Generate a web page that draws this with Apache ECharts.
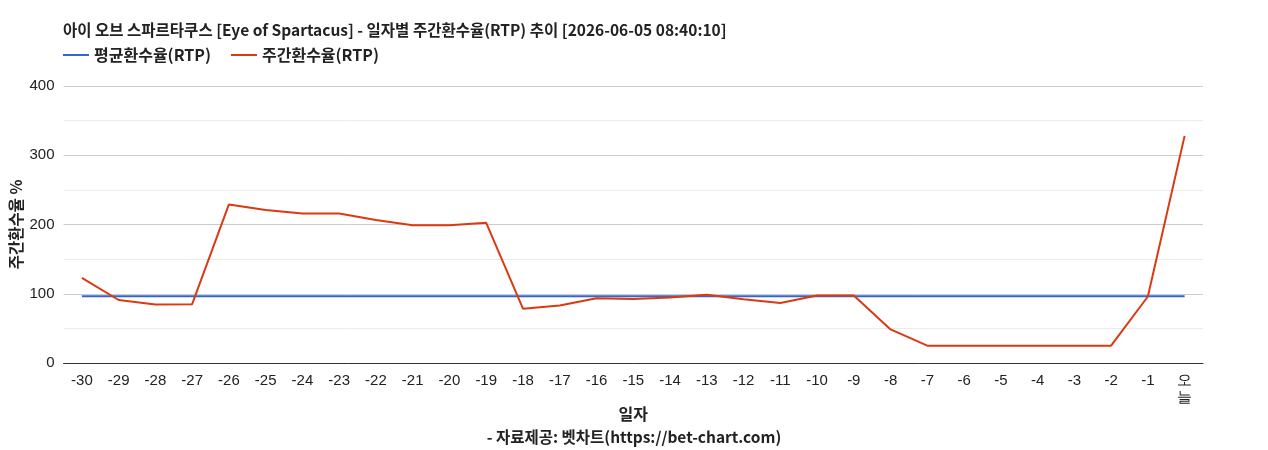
<!DOCTYPE html>
<html>
<head>
    <meta charset="utf-8">
    <title>일자별 주간환수율</title>
    <script src="https://cdn.jsdelivr.net/npm/echarts@6/dist/echarts.min.js"></script>
    <style>
        html, body { margin: 0; padding: 0; background: #fff; }
        #chart { width: 1268px; height: 450px; }
    </style>
</head>
<body>
<div id="chart"></div>
<script>
    // 일자 (x축)
    var days = ['-30', '-29', '-28', '-27', '-26', '-25', '-24', '-23', '-22', '-21',
        '-20', '-19', '-18', '-17', '-16', '-15', '-14', '-13', '-12', '-11',
        '-10', '-9', '-8', '-7', '-6', '-5', '-4', '-3', '-2', '-1', '오늘'];
    // 평균환수율
    var avgRtp = [96.5, 96.5, 96.5, 96.5, 96.5, 96.5, 96.5, 96.5, 96.5, 96.5,
        96.5, 96.5, 96.5, 96.5, 96.5, 96.5, 96.5, 96.5, 96.5, 96.5,
        96.5, 96.5, 96.5, 96.5, 96.5, 96.5, 96.5, 96.5, 96.5, 96.5, 96.5];
    // 주간환수율
    var weekRtp = [123, 91, 84.5, 85, 229, 221, 216, 216, 206.5, 199,
        199, 202.5, 78.5, 83, 93.5, 92.5, 94.5, 98.5, 92, 86.5,
        97.5, 97.5, 48.5, 25, 25, 25, 25, 25, 25, 96, 328];
    var yTicks = [0, 100, 200, 300, 400];

    var font = '"Noto Sans CJK KR", "Noto Sans", sans-serif';
    var numFont = '"Liberation Sans", Arial, sans-serif';
    var chart = echarts.init(document.getElementById('chart'));
    chart.setOption({
        animation: false,
        title: {
            text: '아이 오브 스파르타쿠스 [Eye of Spartacus] - 일자별 주간환수율(RTP) 추이 [2026-06-05 08:40:10]',
            left: 58,
            top: 17,
            textStyle: { fontFamily: font, fontSize: 15.5, fontWeight: 'bold', color: '#222' }
        },
        legend: {
            left: 63,
            top: 47,
            padding: 0,
            itemGap: 20,
            itemWidth: 26,
            itemHeight: 2,
            icon: 'rect',
            textStyle: { fontFamily: font, fontSize: 16, fontWeight: 'bold', color: '#222' },
            data: ['평균환수율(RTP)', '주간환수율(RTP)']
        },
        graphic: [{
            type: 'text',
            left: 'center',
            top: 429,
            style: {
                text: '- 자료제공: 벳차트(https://bet-chart.com)',
                fontFamily: font, fontSize: 15.5, fontWeight: 'bold', fill: '#222'
            }
        }],
        grid: { left: 63, right: 65, top: 86, bottom: 87 },
        xAxis: {
            type: 'category',
            data: days,
            boundaryGap: true,
            name: '일자',
            nameLocation: 'middle',
            nameGap: 43,
            nameMoveOverlap: false,
            nameTextStyle: { fontFamily: font, fontSize: 16, fontWeight: 'bold', color: '#222' },
            axisLine: { lineStyle: { color: '#333' } },
            axisTick: { show: false },
            axisLabel: {
                interval: 0,
                margin: 9,
                fontFamily: numFont,
                fontSize: 15,
                lineHeight: 17,
                color: '#222',
                formatter: function (v) { return v === '오늘' ? '오\n늘' : v; }
            }
        },
        yAxis: {
            type: 'value',
            min: yTicks[0],
            max: yTicks[yTicks.length - 1],
            interval: 100,
            name: '주간환수율 %',
            nameLocation: 'middle',
            nameGap: 40,
            nameMoveOverlap: false,
            nameTextStyle: { fontFamily: font, fontSize: 15.5, fontWeight: 'bold', color: '#222' },
            axisLine: { show: false },
            axisTick: { show: false },
            axisLabel: {
                margin: 9,
                fontFamily: numFont,
                fontSize: 15,
                color: '#222'
            },
            splitLine: { lineStyle: { color: '#cccccc' } },
            minorTick: { show: false, splitNumber: 2 },
            minorSplitLine: { show: true, lineStyle: { color: '#ebebeb' } }
        },
        series: [
            {
                name: '평균환수율(RTP)',
                type: 'line',
                data: avgRtp,
                symbol: 'none',
                color: '#3366cc',
                lineStyle: { width: 2 }
            },
            {
                name: '주간환수율(RTP)',
                type: 'line',
                data: weekRtp,
                symbol: 'none',
                color: '#dc3912',
                lineStyle: { width: 2 }
            }
        ]
    });
</script>
</body>
</html>
